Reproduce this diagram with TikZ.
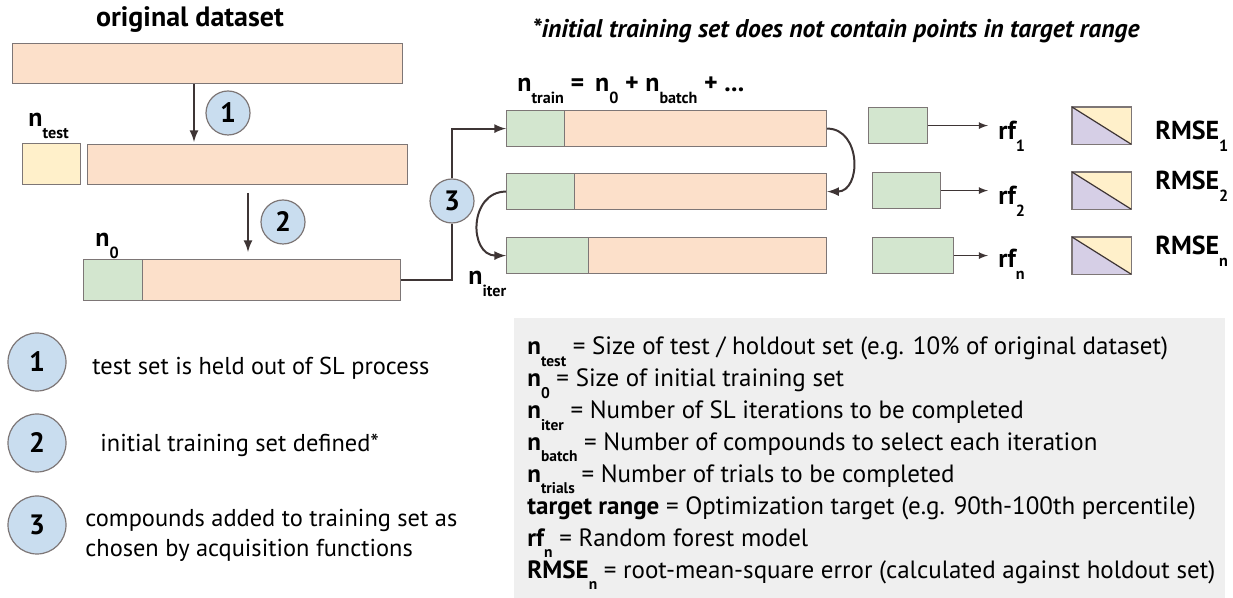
\documentclass[tikz,border=0pt]{standalone}
\usepackage{fontspec}
\setmainfont{PT Sans}
\usetikzlibrary{positioning,calc}

\definecolor{barfill}{RGB}{252,224,202}
\definecolor{trainfill}{RGB}{211,230,207}
\definecolor{testfill}{RGB}{255,240,202}
\definecolor{errfill}{RGB}{214,207,230}
\definecolor{stepfill}{RGB}{201,221,239}
\definecolor{edgegray}{RGB}{125,118,118}
\definecolor{arrowdark}{RGB}{62,53,53}
\definecolor{legendgray}{RGB}{239,239,239}

\newcommand{\sbs}[1]{\raisebox{-0.9ex}{\scalebox{0.62}{#1}}}

\tikzset{
	bar/.style={draw=edgegray, fill=barfill, line width=0.6pt, anchor=north west, inner sep=0pt},
	stepmark/.style={circle, draw=edgegray, fill=stepfill, line width=0.6pt, minimum size=22pt, inner sep=0pt, font=\fontsize{14}{14}\selectfont\bfseries},
	lab/.style={inner sep=0pt, anchor=base west, font=\fontsize{13}{13}\selectfont\bfseries},
	txt/.style={inner sep=0pt, anchor=base west, font=\fontsize{12.5}{15}\selectfont},
	flow/.style={->, draw=arrowdark, line width=1pt},
	link/.style={draw=arrowdark, line width=1pt},
	thinflow/.style={->, draw=arrowdark, line width=0.6pt},
}

\begin{document}
\begin{tikzpicture}[x=0.5pt,y=-0.5pt,>=latex]
\useasboundingbox (0,0) rectangle (1233,598);

% the titles
\node[inner sep=0pt, font=\fontsize{14}{14}\selectfont\bfseries] (title) at (190,20) {original dataset};
\node[inner sep=0pt, font=\fontsize{12.8}{13}\selectfont\bfseries\itshape] (note) at (836,31) {*initial training set does not contain points in target range};

% the data bars
\node[bar, minimum width=195pt, minimum height=20pt] (orig) at (12,43) {};
\node[bar, fill=testfill, minimum width=29pt, minimum height=20.5pt] (test) at (22,143) {};
\node[bar, minimum width=160pt, minimum height=20pt] (rest) at (87,144) {};
\node[bar, minimum width=158.5pt, minimum height=20.5pt] (init) at (83,259) {};
\node[bar, fill=trainfill, minimum width=29.5pt, minimum height=20.5pt] (init0) at (83,259) {};
\node[lab] (ntest) at (28,127) {n\sbs{test}};
\node[lab] (nzero) at (95,247) {n\sbs{0}};

% the iterations
\foreach \it/\y/\w in {A/110/29, B/173/34, C/237/41}{
	\node[bar, minimum width=160pt, minimum height=18pt] (it\it) at (506,\y) {};
	\node[bar, fill=trainfill, minimum width=\w pt, minimum height=18pt] (tr\it) at (506,\y) {};
}
\node[lab] (ntrain) at (517,92) {n\sbs{train} = \,n\sbs{0} + n\sbs{batch} + ...};
\node[lab] (niter) at (468,285) {n\sbs{iter}};

% the models and errors
\foreach \i/\x/\y/\w/\rb/\eb/\s in {1/868/107/29.5/140/140/1, 2/872/172/34/205/190/2, 3/872/237/40.5/268/255/n}{
	\node[bar, fill=trainfill, minimum width=\w pt, minimum height=18pt] (mod\i) at (\x,\y) {};
	\node[lab] (rf\i) at (998,\rb) {rf\sbs{\s}};
	\node[bar, fill=none, minimum width=29pt, minimum height=18pt] (err\i) at (1072,\y) {};
	\fill[errfill] (err\i.north west) -- (err\i.south east) -- (err\i.south west) -- cycle;
	\fill[testfill] (err\i.north west) -- (err\i.north east) -- (err\i.south east) -- cycle;
	\draw[edgegray, line width=0.6pt] (err\i.north west) rectangle (err\i.south east);
	\draw[arrowdark, line width=0.6pt] (err\i.north west) -- (err\i.south east);
	\node[lab] (rmse\i) at (1155,\eb) {RMSE\sbs{\s}};
	\draw[thinflow, shorten >=5pt] (mod\i.east) -- (mod\i.east -| rf\i.west);
}

% the steps
\node[stepmark] (c1) at (228,113) {1};
\node[stepmark] (c2) at (283,222) {2};
\node[stepmark] (c3) at (452,201) {3};

% the arrows
\coordinate (s1) at (194,0);
\coordinate (s2a) at (248,193);
\coordinate (s2b) at (248,252);
\draw[flow] (orig.south -| s1) -- ([yshift=1pt]rest.north -| s1);
\draw[flow] (s2a) -- (s2b);
\draw[link] (init.east) -| (c3.south);
\draw[flow] (c3.north) |- (itA.west);
\draw[flow] (itA.east) to[out=0, in=0, looseness=1.4] (itB.east);
\draw[flow] (itB.west) to[out=180, in=180, looseness=1.5] (itC.west);

% the step key
\node[stepmark, minimum size=29pt] (k1) at (37,362) {1};
\node[stepmark, minimum size=29pt] (k2) at (37,443) {2};
\node[stepmark, minimum size=29pt] (k3) at (37,525) {3};
\node[txt, font=\fontsize{12.2}{15}\selectfont] (k1txt) at (92,375) {test set is held out of SL process};
\node[txt, font=\fontsize{12.2}{15}\selectfont] (k2txt) at (100,452) {initial training set defined*};
\node[txt, font=\fontsize{12.2}{15}\selectfont, align=left, anchor=west] (k3txt) at (85,535) {compounds added to training set as\\chosen by acquisition functions};

% the legend
\node[fill=legendgray, anchor=north west, minimum width=355.5pt, minimum height=140pt, inner sep=0pt] (legbox) at (514,318) {};
\foreach \t [count=\i] in {
	{\textbf{n\sbs{test}} = Size of test / holdout set (e.g. 10\% of original dataset)},
	{\textbf{n\sbs{0}} = Size of initial training set},
	{\textbf{n\sbs{iter}} = Number of SL iterations to be completed},
	{\textbf{n\sbs{batch}} = Number of compounds to select each iteration},
	{\textbf{n\sbs{trials}} = Number of trials to be completed},
	{\textbf{target range} = Optimization target (e.g. 90th-100th percentile)},
	{\textbf{rf\sbs{n}} = Random forest model},
	{\textbf{RMSE\sbs{n}} = root-mean-square error (calculated against holdout set)}}
	\node[txt] (leg\i) at (527,{355+31.9*(\i-1)}) {\t};

\end{tikzpicture}
\end{document}
